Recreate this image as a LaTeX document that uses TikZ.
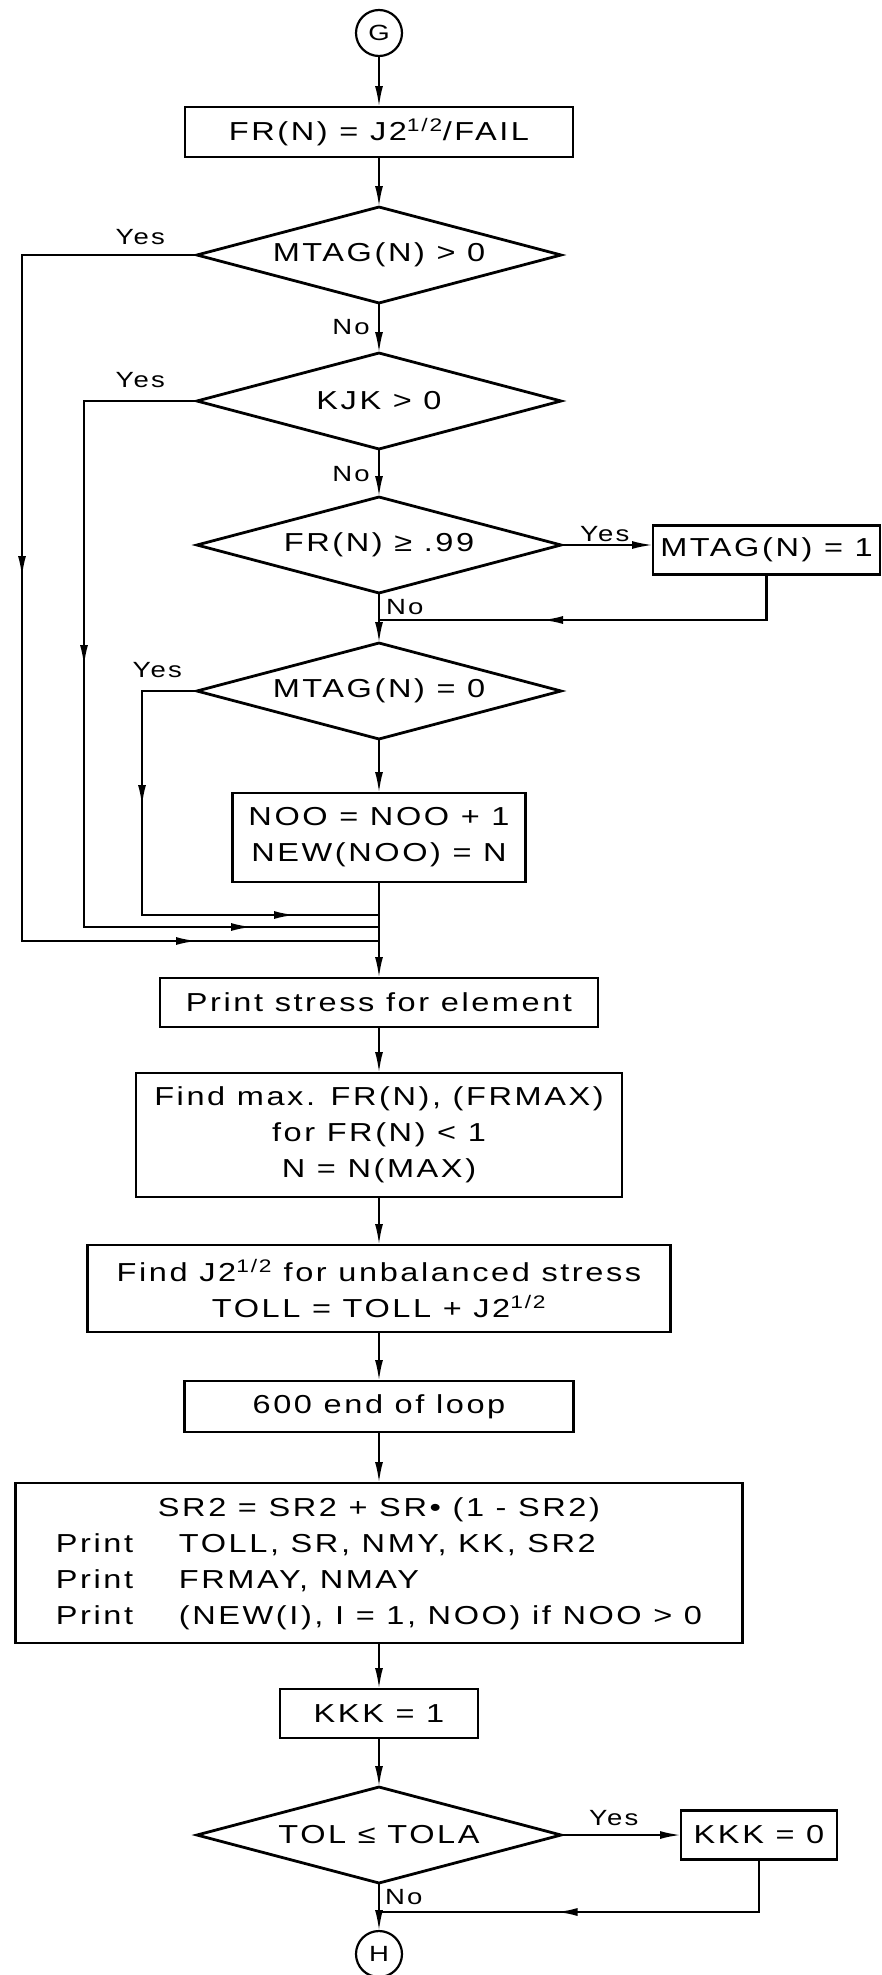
\documentclass[tikz,border=0pt]{standalone}
\usepackage{fontspec}
\setmainfont{Liberation Sans}[FakeStretch=1.25, LetterSpace=10]
\usetikzlibrary{positioning,arrows.meta,shapes.geometric,decorations.markings}

\begin{document}
\begin{tikzpicture}[
    box/.style={draw, line width=2.8pt, inner sep=0pt, outer sep=0pt, align=center, font=\fontsize{26}{36}\selectfont},
    dec/.style={draw, diamond, aspect=3.8, line width=2.8pt, inner sep=0pt, outer sep=0pt, minimum width=364pt, minimum height=96pt, font=\fontsize{26}{36}\selectfont},
    con/.style={draw, circle, line width=2.2pt, minimum size=46pt, inner sep=0pt, outer sep=0pt, font=\fontsize{22}{26}\selectfont},
    lbl/.style={inner sep=0pt, font=\fontsize{22}{26}\selectfont},
    wire/.style={line width=2.2pt},
    arr/.style={wire, -{Latex[length=21pt, width=8pt]}},
    midtip/.style={postaction={decorate}, decoration={markings, mark=at position #1 with {\arrow{Latex[length=21pt, width=8pt]}}}},
    midtwo/.style 2 args={postaction={decorate}, decoration={markings, mark=at position #1 with {\arrow{Latex[length=21pt, width=8pt]}}, mark=at position #2 with {\arrow{Latex[length=21pt, width=8pt]}}}}
]
\useasboundingbox (0,0) rectangle (881pt,-1975pt);

\node[con] (g) at (379pt,-33pt) {G};

\node[box, minimum width=388pt, minimum height=50pt, below=51pt of g] (fr)
{FR(N) = J2\textsuperscript{1/2}/FAIL};

\node[dec, below=50pt of fr] (mtag) {MTAG(N) > 0};
\node[dec, below=50pt of mtag] (kjk) {KJK > 0};
\node[dec, below=48pt of kjk] (frchk) {FR(N) ≥ .99};

\node[box, minimum width=227pt, minimum height=49pt, right=92pt of frchk, yshift=-5pt] (tag)
{MTAG(N) = 1};

\node[dec, below=50pt of frchk] (zero) {MTAG(N) = 0};

\node[box, minimum width=293pt, minimum height=89pt, below=54pt of zero] (noo)
{NOO = NOO + 1\\NEW(NOO) = N};

\node[box, minimum width=438pt, minimum height=49pt, below=96pt of noo] (prt)
{Print stress for element};

\node[box, minimum width=486pt, minimum height=124pt, below=46pt of prt] (fmax)
{Find max. FR(N), (FRMAX)\\for FR(N) < 1\\N = N(MAX)};

\node[box, minimum width=583pt, minimum height=87pt, below=48pt of fmax] (fj2)
{Find J2\textsuperscript{1/2} for unbalanced stress\\TOLL = TOLL + J2\textsuperscript{1/2}};

\node[box, minimum width=389pt, minimum height=51pt, below=49pt of fj2] (loop)
{600 end of loop};

\node[box, minimum width=727pt, minimum height=160pt, below=51pt of loop] (sr)
{\begin{tabular}{@{}p{123pt}@{}l@{}}
\multicolumn{2}{@{}c@{}}{SR2 = SR2 + SR\textbullet{} (1 - SR2)}\\
Print & TOLL, SR, NMY, KK, SR2\\
Print & FRMAY, NMAY\\
Print & (NEW(I), I = 1, NOO) if NOO > 0
\end{tabular}};

\node[box, minimum width=198pt, minimum height=49pt, below=46pt of sr] (kone)
{KKK = 1};

\node[dec, below=49pt of kone] (tol) {TOL ≤ TOLA};

\node[box, minimum width=156pt, minimum height=49pt, right=120pt of tol] (kzero)
{KKK = 0};

\node[con, below=48pt of tol] (h) {H};

% join points on the main line
\coordinate (j0) at ([yshift=-27pt]frchk.south);
\coordinate (j3) at ([yshift=-33pt]noo.south);
\coordinate (j2) at ([yshift=-45pt]noo.south);
\coordinate (j1) at ([yshift=-59pt]noo.south);
\coordinate (j4) at ([yshift=-29pt]tol.south);

% main flow
\draw[arr] (g) -- (fr);
\draw[arr] (fr) -- (mtag);
\draw[arr] (mtag) -- (kjk);
\draw[arr] (kjk) -- (frchk);
\draw[arr] (frchk.east) -- (frchk.east -| tag.west);
\draw[arr] (frchk) -- (zero);
\draw[arr] (zero) -- (noo);
\draw[arr] (noo) -- (prt);
\draw[arr] (prt) -- (fmax);
\draw[arr] (fmax) -- (fj2);
\draw[arr] (fj2) -- (loop);
\draw[arr] (loop) -- (sr);
\draw[arr] (sr) -- (kone);
\draw[arr] (kone) -- (tol);
\draw[arr] (tol.east) -- (kzero.west);
\draw[arr] (tol) -- (h);

% returns and bypasses
\draw[wire, midtip=270pt] (tag.south) |- (j0);
\draw[wire, midtip=255pt] (kzero.south) |- (j4);
\draw[wire, midtwo={497pt}{1036pt}] (mtag.west) -- ++(-175pt,0) |- (j1);
\draw[wire, midtwo={378pt}{807pt}] (kjk.west) -- ++(-113pt,0) |- (j2);
\draw[wire, midtwo={170pt}{432pt}] (zero.west) -- ++(-55pt,0) |- (j3);

% labels
\node[lbl, above left=10pt and 32pt of mtag.west] (y1) {Yes};
\node[lbl, above left=13pt and 32pt of kjk.west] (y2) {Yes};
\node[lbl, above right=3pt and 19pt of frchk.east] (y3) {Yes};
\node[lbl, above left=13pt and 15pt of zero.west] (y4) {Yes};
\node[lbl, above right=9pt and 28pt of tol.east] (y5) {Yes};
\node[lbl, below left=16pt and 9pt of mtag.south] (n1) {No};
\node[lbl, below left=17pt and 9pt of kjk.south] (n2) {No};
\node[lbl, below right=6pt and 7pt of frchk.south] (n3) {No};
\node[lbl, below right=6pt and 6pt of tol.south] (n5) {No};

\end{tikzpicture}
\end{document}
